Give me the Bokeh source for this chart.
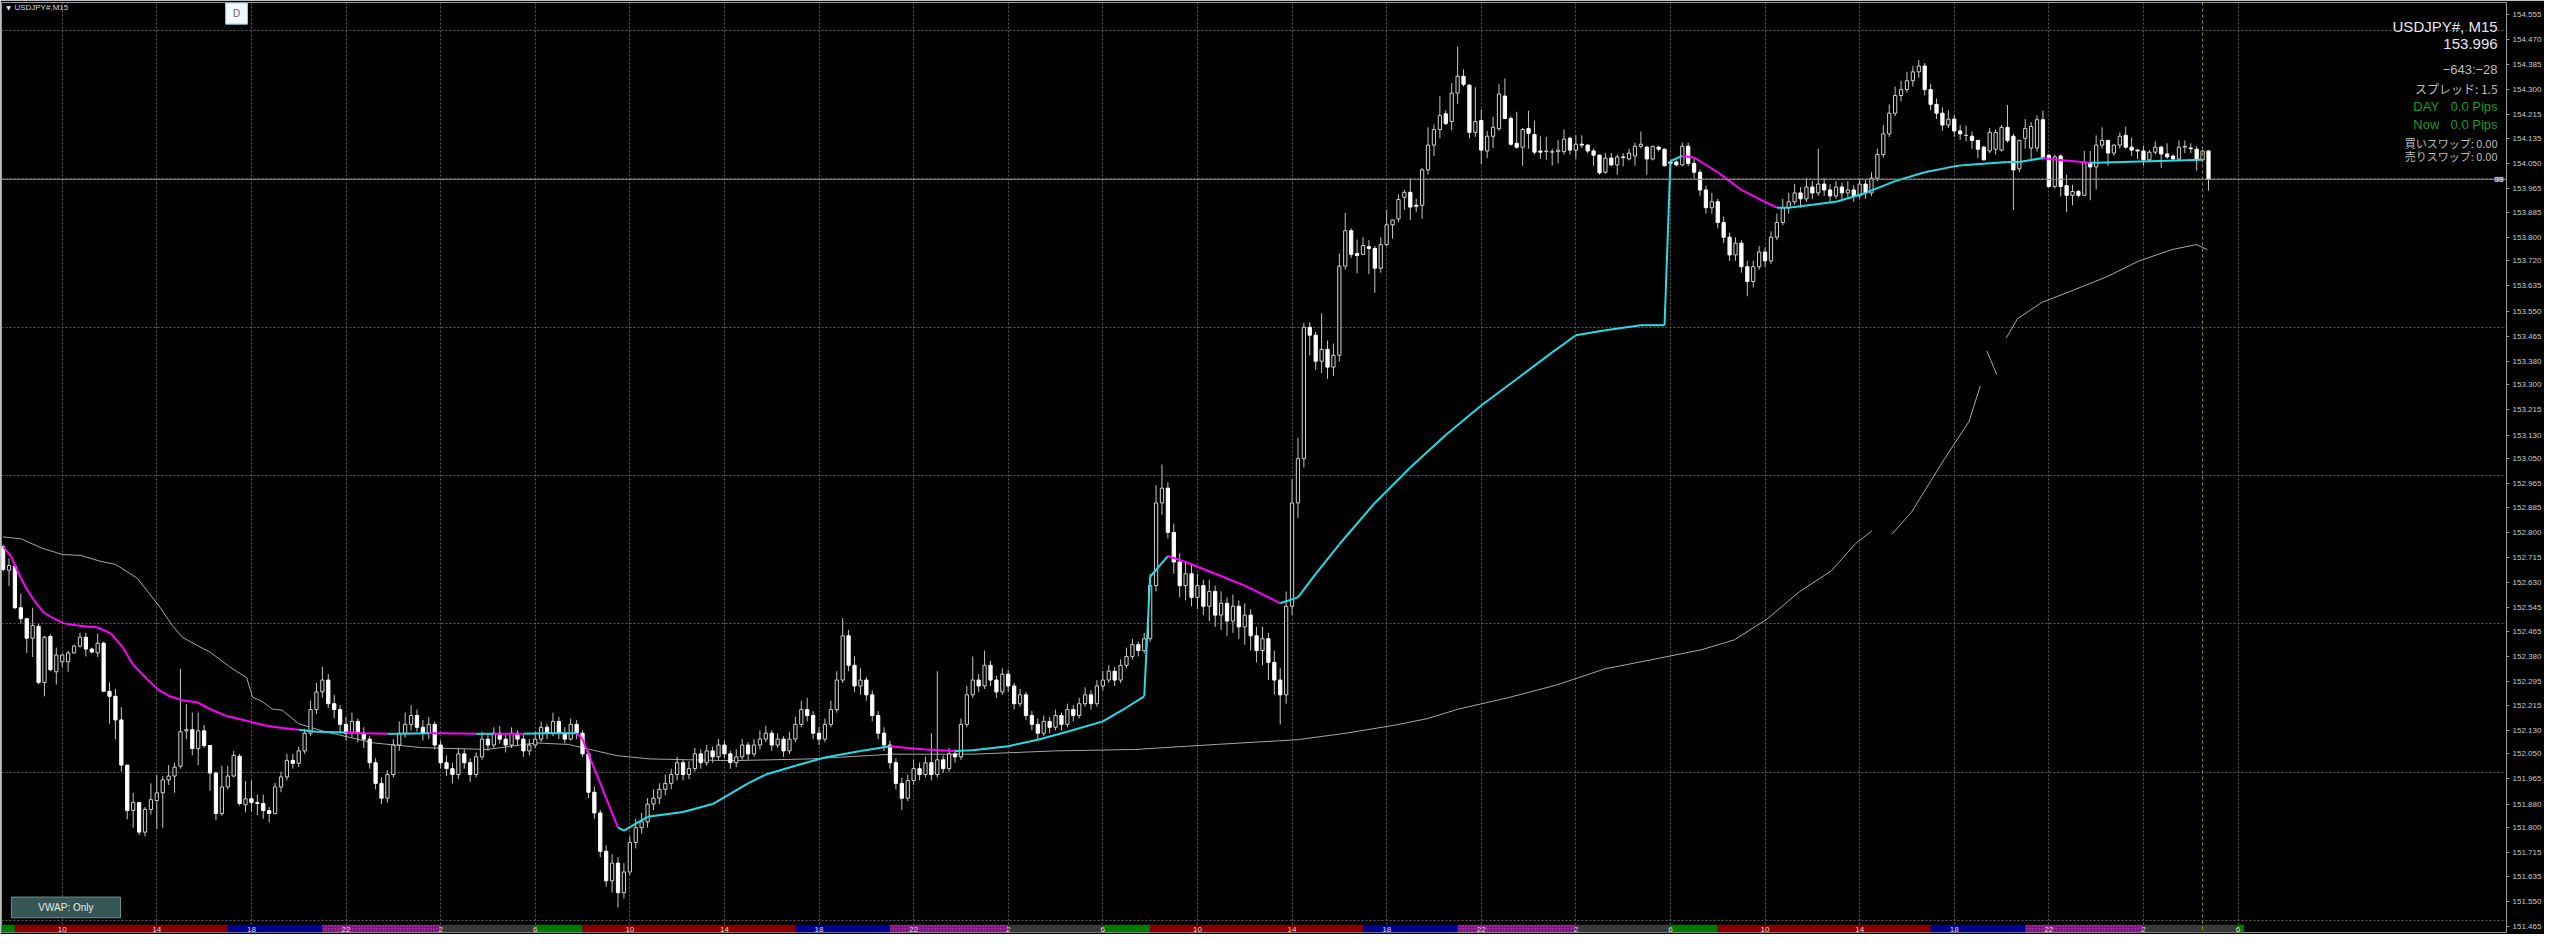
import numpy as np
from bokeh.plotting import figure
from bokeh.models import Range1d, FixedTicker, Span, Label, Grid, PrintfTickFormatter, ColumnDataSource
from bokeh.embed import file_html
from bokeh.resources import INLINE
from bokeh.core.properties import value

N = None
# ---- OHLC, one entry per 15-minute bar (bar 0 = 07:30 of day 1) ----
OPEN = [152.752,152.672,152.685,152.545,152.508,152.442,152.482,152.292,152.448,152.328,
        152.362,152.362,152.392,152.415,152.445,152.405,152.392,152.425,152.262,152.245,
        152.165,152.012,151.858,151.885,151.785,151.862,151.892,151.918,151.962,151.975,
        152.008,152.128,152.132,152.068,152.128,152.078,151.985,151.848,151.938,151.975,
        152.042,151.878,151.898,151.885,151.882,151.858,151.848,151.938,151.972,152.028,
        152.018,152.060,152.120,152.200,152.260,152.300,152.220,152.200,152.150,152.120,
        152.160,152.120,152.100,152.020,151.950,151.900,151.980,152.080,152.120,152.150,
        152.180,152.140,152.120,152.150,152.080,152.020,152.000,151.980,152.050,152.020,
        151.980,152.040,152.100,152.080,152.120,152.100,152.080,152.120,152.100,152.060,
        152.080,152.100,152.140,152.120,152.160,152.120,152.100,152.150,152.120,152.050,
        151.920,151.850,151.720,151.620,151.680,151.580,151.650,151.750,151.800,151.820,
        151.880,151.900,151.930,151.950,151.980,152.020,151.980,152.000,152.050,152.020,
        152.060,152.040,152.080,152.050,152.020,152.040,152.080,152.050,152.080,152.100,
        152.120,152.080,152.100,152.060,152.100,152.150,152.200,152.180,152.120,152.100,
        152.150,152.200,152.300,152.450,152.350,152.280,152.300,152.250,152.180,152.120,
        152.080,152.020,151.950,151.900,151.960,152.000,151.980,152.020,151.980,152.030,
        152.000,152.050,152.040,152.150,152.250,152.300,152.280,152.350,152.300,152.260,
        152.320,152.280,152.220,152.250,152.180,152.150,152.120,152.160,152.140,152.180,
        152.150,152.200,152.180,152.220,152.250,152.220,152.280,152.300,152.330,152.300,
        152.350,152.380,152.420,152.400,152.440,152.620,152.900,152.950,152.800,152.700,
        152.620,152.660,152.580,152.620,152.550,152.600,152.520,152.560,152.500,152.550,
        152.480,152.520,152.450,152.400,152.440,152.360,152.300,152.250,152.550,152.900,
        153.050,153.495,153.468,153.380,153.420,153.360,153.400,153.702,153.822,153.745,
        153.742,153.768,153.762,153.695,153.775,153.842,153.862,153.935,153.952,153.908,
        153.908,154.028,154.112,154.165,154.218,154.192,154.288,154.345,154.315,154.155,
        154.195,154.092,154.142,154.168,154.278,154.202,154.118,154.105,154.168,154.148,
        154.092,154.090,154.088,154.090,154.090,154.135,154.095,154.115,154.112,154.092,
        154.078,154.020,154.068,154.045,154.072,154.065,154.075,154.108,154.105,154.065,
        154.105,154.098,154.055,154.055,154.045,154.108,154.050,154.020,153.960,153.900,
        153.920,153.850,153.800,153.740,153.780,153.700,153.650,153.700,153.750,153.720,
        153.800,153.850,153.900,153.920,153.950,153.930,153.970,153.950,153.980,153.960,
        153.940,153.970,153.950,153.960,153.940,153.980,153.950,154.000,154.080,154.150,
        154.220,154.280,154.300,154.330,154.360,154.380,154.300,154.250,154.220,154.180,
        154.200,154.160,154.145,154.142,154.128,154.105,154.092,154.098,154.095,154.172,
        154.142,154.032,154.135,154.102,154.102,154.198,154.078,153.972,154.075,153.975,
        153.942,153.955,153.942,154.052,154.038,154.112,154.128,154.085,154.112,154.145,
        154.105,154.095,154.092,154.062,154.088,154.105,154.082,154.075,154.065,154.105,
        154.102,154.098,154.062,154.092]
HIGH = [152.758,152.712,152.690,152.592,152.510,152.545,152.490,152.450,152.455,152.410,
        152.390,152.400,152.420,152.460,152.460,152.410,152.458,152.430,152.292,152.270,
        152.208,152.012,151.918,151.885,151.870,151.950,151.978,151.975,152.012,152.020,
        152.338,152.218,152.190,152.190,152.148,152.080,151.990,152.010,152.010,152.060,
        152.050,151.958,151.960,151.912,151.912,151.870,151.952,151.990,152.050,152.050,
        152.075,152.135,152.230,152.290,152.345,152.320,152.250,152.215,152.175,152.190,
        152.170,152.140,152.110,152.035,151.970,151.995,152.100,152.160,152.190,152.215,
        152.200,152.165,152.175,152.160,152.095,152.045,152.020,152.070,152.065,152.035,
        152.055,152.125,152.120,152.140,152.145,152.115,152.140,152.130,152.115,152.100,
        152.125,152.160,152.150,152.190,152.175,152.140,152.170,152.165,152.130,152.060,
        151.940,151.860,151.740,151.710,151.700,151.680,151.770,151.830,151.850,151.900,
        151.930,151.950,151.980,152.000,152.040,152.030,152.025,152.070,152.065,152.080,
        152.075,152.100,152.095,152.060,152.065,152.100,152.090,152.100,152.130,152.145,
        152.130,152.120,152.110,152.125,152.175,152.230,152.240,152.195,152.140,152.170,
        152.230,152.330,152.510,152.470,152.380,152.340,152.310,152.265,152.195,152.140,
        152.095,152.035,151.970,151.980,152.030,152.020,152.040,152.120,152.330,152.045,
        152.070,152.065,152.170,152.280,152.380,152.320,152.400,152.365,152.315,152.340,
        152.335,152.290,152.270,152.260,152.195,152.170,152.180,152.175,152.200,152.190,
        152.220,152.215,152.240,152.275,152.265,152.300,152.330,152.350,152.345,152.370,
        152.410,152.440,152.430,152.460,152.660,152.960,153.030,152.970,152.830,152.730,
        152.700,152.690,152.660,152.640,152.640,152.620,152.600,152.580,152.590,152.570,
        152.560,152.540,152.480,152.480,152.460,152.400,152.340,152.600,152.980,153.120,
        153.510,153.512,153.480,153.542,153.450,153.440,153.745,153.882,153.830,153.792,
        153.800,153.790,153.770,153.800,153.892,153.860,153.945,153.960,154.000,153.930,
        154.035,154.172,154.182,154.278,154.230,154.322,154.445,154.368,154.318,154.308,
        154.232,154.160,154.208,154.318,154.338,154.210,154.225,154.170,154.228,154.195,
        154.142,154.140,154.100,154.130,154.165,154.140,154.145,154.145,154.115,154.100,
        154.080,154.085,154.085,154.080,154.085,154.100,154.120,154.158,154.110,154.110,
        154.110,154.100,154.060,154.060,154.120,154.120,154.070,154.030,153.975,153.950,
        153.930,153.870,153.815,153.800,153.790,153.720,153.720,153.770,153.765,153.820,
        153.880,153.930,153.950,153.980,153.970,154.000,153.990,154.100,154.000,153.980,
        153.990,153.985,153.990,153.975,154.000,153.995,154.020,154.100,154.180,154.250,
        154.310,154.330,154.360,154.380,154.400,154.390,154.320,154.270,154.240,154.230,
        154.215,154.180,154.178,154.158,154.130,154.110,154.170,154.165,154.180,154.248,
        154.150,154.130,154.200,154.190,154.212,154.228,154.080,154.080,154.080,154.012,
        153.978,153.960,154.092,154.092,154.145,154.172,154.130,154.115,154.155,154.175,
        154.138,154.100,154.110,154.095,154.125,154.110,154.118,154.080,154.128,154.128,
        154.118,154.108,154.095,154.095]
LOW = [152.668,152.618,152.540,152.492,152.392,152.378,152.285,152.245,152.330,152.285,
       152.345,152.328,152.390,152.410,152.380,152.390,152.378,152.260,152.152,152.100,
       151.990,151.828,151.800,151.775,151.770,151.845,151.795,151.800,151.945,151.918,
       152.000,152.100,152.045,152.012,152.070,151.925,151.825,151.840,151.930,151.970,
       151.875,151.852,151.855,151.842,151.830,151.818,151.845,151.920,151.960,152.000,
       152.005,152.050,152.110,152.185,152.240,152.205,152.170,152.120,152.095,152.105,
       152.090,152.070,152.000,151.930,151.880,151.885,151.970,152.060,152.105,152.130,
       152.125,152.095,152.100,152.065,152.000,151.975,151.950,151.965,152.000,151.955,
       151.970,152.030,152.060,152.070,152.085,152.055,152.070,152.080,152.040,152.045,
       152.070,152.090,152.100,152.110,152.100,152.085,152.095,152.100,152.040,151.900,
       151.830,151.700,151.600,151.580,151.530,151.560,151.640,151.730,151.780,151.800,
       151.860,151.880,151.910,151.930,151.960,151.960,151.965,151.990,152.000,152.010,
       152.020,152.030,152.035,152.000,152.005,152.030,152.030,152.040,152.065,152.090,
       152.060,152.070,152.040,152.050,152.090,152.140,152.160,152.100,152.080,152.090,
       152.140,152.190,152.290,152.330,152.260,152.250,152.230,152.160,152.100,152.060,
       152.000,151.930,151.860,151.890,151.945,151.960,151.970,151.960,151.970,151.985,
       151.990,152.020,152.030,152.140,152.240,152.260,152.270,152.280,152.240,152.250,
       152.260,152.200,152.210,152.165,152.130,152.100,152.110,152.120,152.130,152.130,
       152.140,152.160,152.170,152.210,152.200,152.210,152.265,152.290,152.280,152.290,
       152.340,152.370,152.380,152.390,152.430,152.600,152.860,152.780,152.660,152.580,
       152.570,152.550,152.540,152.520,152.500,152.480,152.470,152.450,152.460,152.440,
       152.420,152.400,152.360,152.350,152.300,152.250,152.150,152.220,152.520,152.850,
       153.020,153.400,153.350,153.340,153.320,153.330,153.380,153.690,153.730,153.678,
       153.740,153.675,153.612,153.680,153.770,153.795,153.850,153.892,153.858,153.885,
       153.862,154.012,154.075,154.135,154.180,154.162,154.252,154.310,154.135,154.140,
       154.048,154.068,154.102,154.160,154.200,154.110,154.100,154.042,154.100,154.080,
       154.065,154.062,154.042,154.050,154.080,154.080,154.065,154.102,154.085,154.042,
       154.012,154.015,154.040,154.012,154.040,154.060,154.042,154.100,154.012,154.060,
       154.090,154.040,154.045,154.040,154.040,154.040,154.000,153.940,153.880,153.880,
       153.830,153.780,153.720,153.720,153.680,153.600,153.630,153.690,153.700,153.710,
       153.790,153.840,153.880,153.910,153.900,153.920,153.930,153.940,153.940,153.920,
       153.930,153.930,153.935,153.920,153.930,153.930,153.940,153.990,154.070,154.140,
       154.210,154.260,154.290,154.310,154.340,154.280,154.230,154.200,154.160,154.170,
       154.140,154.130,154.125,154.100,154.068,154.060,154.085,154.080,154.090,154.120,
       153.892,154.020,154.100,154.060,154.090,154.060,153.968,153.965,153.938,153.885,
       153.908,153.935,153.940,153.925,153.962,154.100,154.042,154.075,154.100,154.100,
       154.075,154.065,154.042,154.055,154.080,154.035,154.065,154.060,154.060,154.085,
       154.085,154.025,154.055,153.958]
CLOSE = [152.675,152.688,152.545,152.508,152.442,152.485,152.292,152.445,152.335,152.385,
         152.385,152.392,152.415,152.445,152.405,152.395,152.425,152.262,152.245,152.165,
         152.012,151.858,151.885,151.785,151.862,151.895,151.918,151.962,151.975,152.005,
         152.125,152.132,152.068,152.128,152.078,151.985,151.848,151.938,151.975,152.045,
         151.882,151.898,151.885,151.882,151.858,151.848,151.938,151.972,152.028,152.018,
         152.060,152.120,152.200,152.260,152.300,152.220,152.200,152.150,152.120,152.160,
         152.120,152.100,152.020,151.950,151.900,151.980,152.080,152.120,152.150,152.180,
         152.140,152.120,152.150,152.080,152.020,152.000,151.980,152.050,152.020,151.980,
         152.040,152.100,152.080,152.120,152.100,152.080,152.120,152.100,152.060,152.080,
         152.100,152.140,152.120,152.160,152.120,152.100,152.150,152.120,152.050,151.920,
         151.850,151.720,151.620,151.680,151.580,151.650,151.750,151.800,151.820,151.880,
         151.900,151.930,151.950,151.980,152.020,151.980,152.000,152.050,152.020,152.060,
         152.040,152.080,152.050,152.020,152.040,152.080,152.050,152.080,152.100,152.120,
         152.080,152.100,152.060,152.100,152.150,152.200,152.180,152.120,152.100,152.150,
         152.200,152.300,152.450,152.350,152.280,152.300,152.250,152.180,152.120,152.080,
         152.020,151.950,151.900,151.960,152.000,151.980,152.020,151.980,152.030,152.000,
         152.050,152.040,152.150,152.250,152.300,152.280,152.350,152.300,152.260,152.320,
         152.280,152.220,152.250,152.180,152.150,152.120,152.160,152.140,152.180,152.150,
         152.200,152.180,152.220,152.250,152.220,152.280,152.300,152.330,152.300,152.350,
         152.380,152.420,152.400,152.440,152.620,152.900,152.950,152.800,152.700,152.620,
         152.660,152.580,152.620,152.550,152.600,152.520,152.560,152.500,152.550,152.480,
         152.520,152.450,152.400,152.440,152.360,152.300,152.250,152.550,152.900,153.050,
         153.495,153.468,153.380,153.420,153.360,153.400,153.702,153.822,153.742,153.738,
         153.772,153.762,153.695,153.775,153.842,153.858,153.928,153.952,153.902,153.905,
         154.028,154.112,154.165,154.212,154.185,154.288,154.345,154.318,154.155,154.192,
         154.095,154.142,154.172,154.285,154.202,154.115,154.105,154.165,154.152,154.088,
         154.088,154.092,154.090,154.095,154.132,154.095,154.115,154.112,154.092,154.078,
         154.018,154.068,154.045,154.072,154.070,154.085,154.108,154.115,154.065,154.108,
         154.098,154.042,154.050,154.045,154.108,154.050,154.020,153.960,153.900,153.920,
         153.850,153.800,153.740,153.780,153.700,153.650,153.700,153.750,153.720,153.800,
         153.850,153.900,153.920,153.950,153.930,153.970,153.950,153.980,153.960,153.940,
         153.970,153.950,153.960,153.940,153.980,153.950,154.000,154.080,154.150,154.220,
         154.280,154.300,154.330,154.360,154.380,154.300,154.250,154.220,154.180,154.200,
         154.160,154.150,154.145,154.128,154.098,154.062,154.155,154.155,154.172,154.128,
         154.028,154.128,154.168,154.175,154.198,154.072,153.972,154.072,153.972,153.942,
         153.955,153.942,154.052,154.038,154.112,154.128,154.085,154.112,154.142,154.105,
         154.095,154.092,154.062,154.088,154.105,154.082,154.072,154.065,154.105,154.108,
         154.100,154.062,154.092,153.996]

# VWAP indicator: (bar, price, colour code of the segment that ends at this point)
VWAP_BAR = [0,1.4,2.2,3.9,5.3,6.9,8.6,10.3,12.6,16,18.2,20.2,22,24.4,26.2,28.2,30.3,32.8,35,37.8,41.2,44.5,47.2,50,
            53,58,61,65,67,72,74,80,83,88,92,97,
            98,100,102,104,105,109,115,120,126,129,134,139,145,150,153,156,161,164,170,175,180,186,190,193,
            194,197,200,205,210,216,219,222,226,232,238,244,250,256,262,266,271,277,281,
            282,284,286,290,294,298,300,302,306,310,315,320,325,330,332,339,341,345,346,353,354,372]
VWAP_PRICE = [152.752,152.718,152.678,152.612,152.568,152.528,152.508,152.492,152.485,152.478,152.458,152.412,
              152.352,152.302,152.268,152.245,152.232,152.225,152.202,152.178,152.162,152.145,152.138,152.132,
              152.125,152.122,152.120,152.118,152.118,152.120,152.120,152.118,152.118,152.118,152.120,152.120,
              152.100,152.000,151.900,151.800,151.790,151.837,151.853,151.880,151.950,151.980,152.010,152.038,
              152.060,152.076,152.070,152.065,152.060,152.062,152.076,152.098,152.125,152.160,152.207,152.245,
              152.650,152.720,152.700,152.660,152.620,152.560,152.580,152.660,152.760,152.900,153.020,153.130,
              153.230,153.320,153.410,153.468,153.485,153.502,153.502,
              154.058,154.075,154.070,154.020,153.960,153.920,153.900,153.900,153.910,153.920,153.950,153.990,
              154.020,154.040,154.045,154.055,154.055,154.068,154.065,154.052,154.052,154.062]
VWAP_COL = (["m"] * 24 + ["c", "c", "m", "m", "c", "c", "m", "m", "c", "m", "c", "c"]
            + ["m"] * 4 + ["c"] * 10 + ["m"] * 3 + ["c"] * 7
            + ["c", "c", "m", "m", "m", "m", "c"] + ["c"] * 12
            + ["c", "c", "m", "m", "m", "m", "m"] + ["c"] * 11 + ["m", "m"] + ["c", "c"])

# grey smoothed line (None = break in the line)
GRAY_BAR = [0,3.1,6.4,10.1,13.2,16.5,19.0,22.7,26.6,28.6,30.3,33.3,35,38.3,41.2,42.2,43.8,45.5,47.2,50,
            54.5,62.7,70.9,81.9,90.1,95.6,103.8,109.3,123,136.7,150.4,164.1,177.8,191.5,205.2,218.9,227.1,
            235.3,240.8,246.2,254.5,262.7,270.9,279.1,287.3,292.8,298.3,303.8,309.2,313.3,316.1,N,
            319.5,322.8,328.4,332.5,334.4,N,335.5,337.2,N,338.8,340.7,344.8,350.3,355.8,361.3,366.8,370.9,372.8]
GRAY_PRICE = [152.785,152.778,152.748,152.725,152.722,152.702,152.692,152.645,152.545,152.485,152.445,152.412,
              152.395,152.345,152.308,152.242,152.228,152.202,152.198,152.152,
              152.125,152.087,152.071,152.065,152.087,152.082,152.044,152.033,152.027,152.033,152.049,152.049,
              152.060,152.065,152.082,152.098,152.120,152.147,152.169,152.202,152.240,152.283,152.338,152.370,
              152.403,152.436,152.506,152.599,152.670,152.762,152.806,N,
              152.795,152.870,153.051,153.176,153.296,N,153.415,153.334,N,153.459,153.524,153.579,153.622,
              153.666,153.720,153.758,153.775,153.758]

PRICE_TICKS = [154.555,154.470,154.385,154.300,154.215,154.135,154.050,153.965,153.885,153.800,153.720,153.635,
               153.550,153.465,153.380,153.300,153.215,153.130,153.050,152.965,152.885,152.800,152.715,152.630,
               152.545,152.465,152.380,152.295,152.215,152.130,152.050,151.965,151.880,151.800,151.715,151.635,
               151.550,151.465]
BID = 153.996
TIME_TICK_BARS = list(range(10, 379, 16))
TIME_LABELS = ["10", "14", "18", "22", "2", "6"] * 4
SESS_START = [-0.3, 2, 38, 54, 74, 90, 98, 134, 150, 170, 186, 194, 230, 246, 266, 282, 290, 326, 342, 362, 378]
SESS_END = [2, 38, 54, 74, 90, 98, 134, 150, 170, 186, 194, 230, 246, 266, 282, 290, 326, 342, 362, 378, 379]
SESS_KIND = ["asia", "eu", "ny", "late", "night"] * 4 + ["asia"]
INFO_LINES = ["USDJPY#, M15", "153.996", "\u2212643:\u221228", "\u30b9\u30d7\u30ec\u30c3\u30c9: 1.5"]
SWAP_LINES = ["\u8cb7\u3044\u30b9\u30ef\u30c3\u30d7: 0.00", "\u58f2\u308a\u30b9\u30ef\u30c3\u30d7: 0.00"]

# ------------------------------------------------------------------
o = np.array(OPEN, dtype=float); h = np.array(HIGH, dtype=float)
l = np.array(LOW, dtype=float); c = np.array(CLOSE, dtype=float)
n = len(o)
idx = np.arange(n)
bull = c >= o
src = ColumnDataSource(dict(x=idx, h=h, l=l, top=np.fmax(o, c), bot=np.fmin(o, c),
                            fill=np.where(bull, "#000000", "#ffffff"),
                            line=np.where(bull, "#cfcfcf", "#ffffff")))

W, H = 2544, 934
p = figure(width=W, height=H, output_backend="svg", toolbar_location=None,
           x_range=Range1d(-0.27, 423.4), y_range=Range1d(151.445, 154.595),
           x_axis_location=None, y_axis_location="right",
           background_fill_color="#000000", border_fill_color="#000000",
           outline_line_color="#9a9a9a", min_border_left=1, min_border_right=0,
           min_border_top=2, min_border_bottom=2)
p.grid.visible = False
p.extra_x_ranges = {"px": Range1d(0, 2526)}
p.extra_y_ranges = {"py": Range1d(947, 2)}

ax = p.yaxis[0]
ax.ticker = FixedTicker(ticks=PRICE_TICKS)
ax.formatter = PrintfTickFormatter(format="%.3f")
ax.major_label_text_font = "Liberation Sans"
ax.major_label_text_font_size = "8px"
ax.major_label_text_color = "#c8c8c8"
ax.axis_line_color = "#9a9a9a"
ax.major_tick_line_color = "#9a9a9a"
ax.major_tick_in = 0
ax.major_tick_out = 3
ax.minor_tick_line_color = None
ax.major_label_standoff = 3

# grids
grid_prices = [154.6017 - y / 300 for y in (30, 181, 332, 483, 633, 784, 935)]
p.add_layout(Grid(dimension=0, ticker=FixedTicker(ticks=TIME_TICK_BARS), grid_line_color="#5c5c5c",
                  grid_line_dash="2 2", grid_line_width=1))
p.add_layout(Grid(dimension=1, ticker=FixedTicker(ticks=grid_prices), grid_line_color="#5c5c5c",
                  grid_line_dash="2 2", grid_line_width=1))
p.add_layout(Span(location=BID, dimension="width", line_color="#8c8c8c", line_width=1))
p.add_layout(Span(location=372, dimension="height", line_color="#a0a000", line_width=1, line_dash="3 3"))

# grey line
p.line(np.array(GRAY_BAR, dtype=float), np.array(GRAY_PRICE, dtype=float), line_color="#a6a6a6", line_width=1)

# candles
p.segment(x0="x", y0="l", x1="x", y1="h", source=src, line_color="#c4c4c4", line_width=1)
p.vbar(x="x", width=0.55, top="top", bottom="bot", fill_color="fill", line_color="line", line_width=1, source=src)

# VWAP
vx = np.array(VWAP_BAR, dtype=float); vy = np.array(VWAP_PRICE, dtype=float)
vcol = ["#ff00ff" if k == "m" else "#22dde6" for k in VWAP_COL]
p.segment(x0=vx[:-1], y0=vy[:-1], x1=vx[1:], y1=vy[1:], line_color=vcol[1:], line_width=2)

# session bar along the bottom
sess_fill = {"asia": "#007a00", "eu": "#8a0000", "ny": "#00008e", "late": "#7a147a", "night": "#3a3a3a"}
p.quad(left=SESS_START, right=SESS_END, top=[939] * len(SESS_START), bottom=[947] * len(SESS_START),
       y_range_name="py", fill_color=[sess_fill[k] for k in SESS_KIND], line_color=None)
late = [i for i, k in enumerate(SESS_KIND) if k == "late"]
p.quad(left=[SESS_START[i] for i in late], right=[SESS_END[i] for i in late], top=[939] * len(late),
       bottom=[947] * len(late), y_range_name="py", fill_alpha=0, line_color=None,
       hatch_pattern=".", hatch_color="#d060d0", hatch_scale=3, hatch_alpha=0.8)
p.text(x=TIME_TICK_BARS, y=[943.5] * len(TIME_TICK_BARS), text=TIME_LABELS, y_range_name="py",
       text_align="center", text_baseline="middle", text_font=value("Liberation Sans"),
       text_font_size="8px", text_color="#e8d8d8")

# top-left title and D button
p.text(x=[7], y=[7], text=["\u25bc"], x_range_name="px", y_range_name="py", text_align="center",
       text_baseline="middle", text_font=value("DejaVu Sans"), text_font_size="6px", text_color="#e0e0e0")
p.text(x=[13], y=[7], text=["USDJPY#,M15"], x_range_name="px", y_range_name="py", text_align="left",
       text_baseline="middle", text_font=value("Liberation Sans"), text_font_size="8px", text_color="#d8d8d8")
p.quad(left=[226], right=[248], top=[2.5], bottom=[24], x_range_name="px", y_range_name="py",
       fill_color="#f2f9ff", line_color="#8fcff0", line_width=1)
p.text(x=[237], y=[13], text=["D"], x_range_name="px", y_range_name="py", text_align="center",
       text_baseline="middle", text_font=value("Liberation Sans"), text_font_size="10px", text_color="#6a6a6a")

# VWAP: Only button
p.quad(left=[10], right=[120], top=[911], bottom=[932], x_range_name="px", y_range_name="py",
       fill_color="#365656", line_color="#6f8f8f", line_width=1)
p.text(x=[65], y=[921.5], text=["VWAP: Only"], x_range_name="px", y_range_name="py", text_align="center",
       text_baseline="middle", text_font=value("Liberation Sans"), text_font_size="10px", text_color="#e8e8e8")

# information block (top right)
tkw = dict(x_range_name="px", y_range_name="py", text_baseline="middle")
p.text(x=[2517, 2517], y=[26, 44], text=INFO_LINES[:2], text_align="right", text_font=value("Liberation Sans"),
       text_font_size="15px", text_color="#e6e6e6", **tkw)
p.text(x=[2517], y=[70], text=[INFO_LINES[2]], text_align="right", text_font=value("Liberation Sans"),
       text_font_size="13px", text_color="#bdbdbd", **tkw)
p.text(x=[2517], y=[89], text=[INFO_LINES[3]], text_align="right", text_font=value("Noto Sans CJK JP"),
       text_font_size="12px", text_color="#bdbdbd", **tkw)
p.text(x=[2432, 2432], y=[108, 126], text=["DAY", "Now"], text_align="left", text_font=value("Liberation Sans"),
       text_font_size="13px", text_color="#1f9a1f", **tkw)
p.text(x=[2517, 2517], y=[108, 126], text=["0.0 Pips", "0.0 Pips"], text_align="right",
       text_font=value("Liberation Sans"), text_font_size="13px", text_color="#1f9a1f", **tkw)
p.text(x=[2517, 2517], y=[145, 158], text=SWAP_LINES, text_align="right", text_font=value("Noto Sans CJK JP"),
       text_font_size="11px", text_color="#bdbdbd", **tkw)

# bid price tag on the axis
p.add_layout(Label(x=423.4, y=BID, x_offset=1, text="%.3f" % BID, text_font_size="8px", text_color="#000000",
                   text_font="Liberation Sans", text_baseline="middle", background_fill_color="#ffffff"))
p.add_layout(Label(x=423.4, y=BID, x_offset=-12, text="99", text_font_size="8px", text_color="#e0e0e0",
                   text_font="Liberation Sans", text_baseline="middle", background_fill_color="#66758a"))

open("out.html", "w").write(file_html(p, INLINE))
